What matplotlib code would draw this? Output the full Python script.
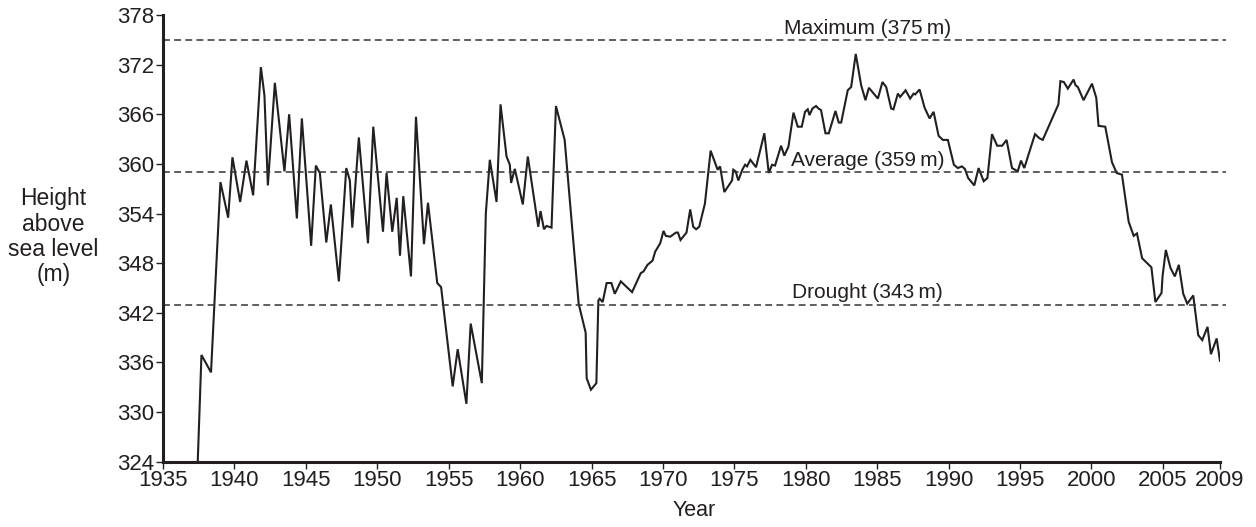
import matplotlib
matplotlib.use("Agg")
import matplotlib.pyplot as plt

plt.rcParams['font.family'] = ['Liberation Sans', 'DejaVu Sans']

years = [
    1937.43, 1937.69, 1938.36, 1939.02, 1939.56, 1939.86, 1940.40, 1940.84, 1941.31, 1941.85,
    1942.10, 1942.34, 1942.83, 1943.50, 1943.83, 1944.37, 1944.72, 1945.37, 1945.70, 1945.98,
    1946.43, 1946.75, 1947.31, 1947.83, 1948.08, 1948.25, 1948.71, 1949.35, 1949.72, 1950.40,
    1950.65, 1951.05, 1951.36, 1951.59, 1951.82, 1952.36, 1952.71, 1953.27, 1953.55, 1954.20,
    1954.47, 1955.28, 1955.63, 1956.24, 1956.54, 1957.32, 1957.60, 1957.88, 1958.35, 1958.63,
    1959.05, 1959.28, 1959.37, 1959.63, 1960.19, 1960.54, 1961.27, 1961.43, 1961.67, 1961.85,
    1962.20, 1962.51, 1963.12, 1964.10, 1964.59, 1964.66, 1964.96, 1965.34, 1965.48, 1965.57,
    1965.78, 1966.06, 1966.39, 1966.63, 1967.05, 1967.84, 1968.45, 1968.64, 1968.92, 1969.27,
    1969.46, 1969.81, 1970.04, 1970.20, 1970.51, 1970.91, 1971.05, 1971.23, 1971.65, 1971.91,
    1972.12, 1972.33, 1972.54, 1972.94, 1973.08, 1973.34, 1973.83, 1974.00, 1974.30, 1974.84,
    1974.93, 1975.09, 1975.28, 1975.56, 1975.75, 1975.89, 1976.12, 1976.52, 1977.10, 1977.41,
    1977.64, 1977.85, 1978.27, 1978.50, 1978.79, 1979.14, 1979.44, 1979.72, 1979.95, 1980.14,
    1980.26, 1980.47, 1980.72, 1980.89, 1981.07, 1981.38, 1981.61, 1982.08, 1982.31, 1982.48,
    1982.94, 1983.18, 1983.50, 1983.88, 1984.18, 1984.42, 1985.05, 1985.37, 1985.63, 1985.98,
    1986.14, 1986.45, 1986.61, 1986.99, 1987.31, 1987.55, 1987.66, 1987.97, 1988.32, 1988.67,
    1988.95, 1989.30, 1989.60, 1989.95, 1990.37, 1990.65, 1990.93, 1991.14, 1991.37, 1991.80,
    1992.10, 1992.46, 1992.72, 1993.04, 1993.40, 1993.75, 1994.06, 1994.44, 1994.84, 1995.07,
    1995.30, 1996.05, 1996.36, 1996.59, 1997.69, 1997.83, 1998.07, 1998.35, 1998.75, 1998.89,
    1999.05, 1999.45, 2000.04, 2000.34, 2000.50, 2000.97, 2001.44, 2001.77, 2002.14, 2002.61,
    2002.96, 2003.19, 2003.55, 2004.20, 2004.48, 2004.91, 2004.98, 2005.21, 2005.54, 2005.84,
    2006.12, 2006.43, 2006.71, 2007.13, 2007.48, 2007.76, 2008.13, 2008.37, 2008.77, 2009.00,
]
heights = [
    324.0, 336.9, 334.8, 357.8, 353.5, 360.8, 355.4, 360.4, 356.2, 371.7,
    368.3, 357.4, 369.8, 359.1, 366.0, 353.4, 365.5, 350.1, 359.8, 358.9,
    350.5, 355.1, 345.8, 359.5, 358.0, 352.3, 363.2, 350.4, 364.5, 351.8,
    358.9, 351.8, 355.9, 348.9, 356.1, 346.4, 365.7, 350.3, 355.3, 345.6,
    345.1, 333.1, 337.6, 331.0, 340.7, 333.5, 354.0, 360.5, 355.4, 367.2,
    360.9, 359.9, 357.7, 359.4, 355.1, 360.9, 352.4, 354.3, 352.1, 352.5,
    352.3, 367.0, 362.9, 343.1, 339.6, 334.1, 332.7, 333.5, 343.5, 343.7,
    343.3, 345.6, 345.6, 344.3, 345.8, 344.5, 346.8, 347.0, 347.8, 348.3,
    349.4, 350.4, 351.9, 351.3, 351.2, 351.7, 351.7, 350.8, 351.7, 354.5,
    352.4, 352.1, 352.4, 355.2, 357.4, 361.6, 359.3, 359.7, 356.6, 358.0,
    359.3, 359.1, 358.0, 359.3, 359.9, 359.7, 360.5, 359.6, 363.7, 358.9,
    359.9, 359.8, 362.2, 361.0, 362.1, 366.2, 364.5, 364.5, 366.3, 366.6,
    365.9, 366.7, 367.0, 366.7, 366.5, 363.7, 363.7, 366.4, 365.0, 365.0,
    368.9, 369.3, 373.3, 369.5, 367.7, 369.2, 367.9, 369.9, 369.3, 366.7,
    366.6, 368.5, 368.1, 368.9, 367.9, 368.5, 368.4, 369.0, 366.8, 365.5,
    366.3, 363.4, 362.9, 362.9, 359.9, 359.5, 359.7, 359.4, 358.3, 357.4,
    359.5, 357.9, 358.3, 363.6, 362.2, 362.2, 362.9, 359.5, 359.1, 360.4,
    359.5, 363.6, 363.1, 362.9, 367.2, 370.0, 369.9, 369.1, 370.2, 369.5,
    369.3, 367.7, 369.7, 368.0, 364.6, 364.5, 360.2, 358.9, 358.7, 353.0,
    351.3, 351.6, 348.6, 347.5, 343.3, 344.4, 346.4, 349.6, 347.4, 346.4,
    347.8, 344.3, 343.1, 344.1, 339.3, 338.7, 340.3, 337.0, 338.9, 336.2,
]

ref_levels = [375, 359, 343]
ref_labels = ["Maximum (375\u2009m)", "Average (359\u2009m)", "Drought (343\u2009m)"]

x_ticks = [1935, 1940, 1945, 1950, 1955, 1960, 1965, 1970, 1975, 1980, 1985, 1990, 1995, 2000, 2005, 2009]
y_ticks = [324, 330, 336, 342, 348, 354, 360, 366, 372, 378]

ink = "#231f20"

fig = plt.figure(figsize=(12.56, 5.27), dpi=100)
ax = fig.add_axes([0.1298, 0.1239, 0.8415, 0.8476])

ax.plot(years, heights, color=ink, lw=1.5, solid_joinstyle='miter')

for lvl, lab in zip(ref_levels, ref_labels):
    ax.plot([1935, 2009.45], [lvl, lvl], color="#333333", lw=1.1,
            linestyle=(0, (4.5, 2.8)), clip_on=False)
    ax.text(1984.33, lvl + 0.25, lab, ha='center', va='bottom', fontsize=15, color=ink)

ax.set_xlim(1935, 2009)
ax.set_ylim(324, 378)
ax.set_xticks(x_ticks)
ax.set_yticks(y_ticks)
ax.tick_params(axis='both', labelsize=16, colors=ink, length=5, width=1, pad=1)
ax.spines['top'].set_visible(False)
ax.spines['right'].set_visible(False)
for s in ('left', 'bottom'):
    ax.spines[s].set_linewidth(2.2)
    ax.spines[s].set_color(ink)

ax.set_xlabel("Year", fontsize=15.5, color=ink, labelpad=-3)
ax.xaxis.set_label_coords(0.503, -0.085)
fig.text(0.0427, 0.551, "Height\nabove\nsea level\n(m)", ha='center', va='center',
         fontsize=16.5, color=ink, linespacing=1.12)

fig.savefig("out.png", dpi=100)
